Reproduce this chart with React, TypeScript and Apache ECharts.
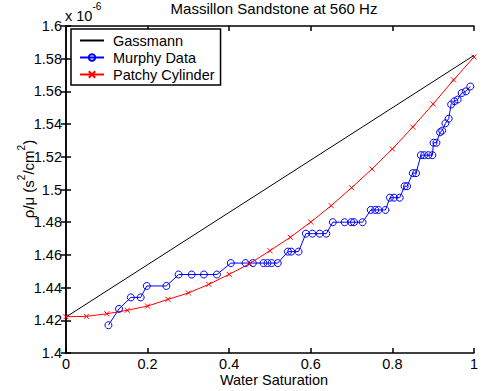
import React, { useEffect, useRef } from "react";
import * as echarts from "echarts";

const chartTitle = "Massillon Sandstone at 560 Hz";
const xAxisTitle = "Water Saturation";
const yAxisTitleRich = "{n|ρ/μ (s}{s|2}{n|/cm}{s|2}{n|)}";
const multiplierRich = "{n|x 10}{s|-6}";

const xMin = 0;
const xMax = 1;
const xStep = 0.2;
const yMin = 1.4;
const yMax = 1.6;
const yStep = 0.02;

const seriesNames = ["Gassmann", "Murphy Data", "Patchy Cylinder"];

const gassmannX = [0, 1];
const gassmannY = [1.422, 1.582];

const murphyX = [
  0.104, 0.13, 0.159, 0.183, 0.198, 0.246, 0.276, 0.308, 0.338, 0.37,
  0.404, 0.44, 0.458, 0.484, 0.494, 0.504, 0.519, 0.544, 0.552, 0.57,
  0.588, 0.604, 0.622, 0.638, 0.654, 0.683, 0.699, 0.706, 0.727, 0.747,
  0.758, 0.766, 0.783, 0.794, 0.804, 0.818, 0.83, 0.836, 0.85, 0.858,
  0.87, 0.878, 0.888, 0.898, 0.901, 0.908, 0.917, 0.922, 0.93, 0.938,
  0.944, 0.952, 0.96, 0.97, 0.98, 0.991,
];
const murphyY = [
  1.417, 1.427, 1.434, 1.434, 1.441, 1.441, 1.448, 1.448, 1.448, 1.448,
  1.455, 1.455, 1.455, 1.455, 1.455, 1.455, 1.455, 1.462, 1.462, 1.462,
  1.473, 1.473, 1.473, 1.473, 1.48, 1.48, 1.48, 1.48, 1.48, 1.4875,
  1.4875, 1.4875, 1.4875, 1.495, 1.495, 1.495, 1.502, 1.502, 1.51, 1.51,
  1.521, 1.521, 1.521, 1.521, 1.5286, 1.5286, 1.535, 1.536, 1.5405, 1.5433,
  1.552, 1.554, 1.555, 1.559, 1.56, 1.563,
];

const patchyX = [
  0, 0.05, 0.1, 0.15, 0.2, 0.25, 0.3, 0.35, 0.4, 0.45, 0.5,
  0.55, 0.6, 0.65, 0.7, 0.75, 0.8, 0.85, 0.9, 0.95, 1,
];
const patchyY = [
  1.4222, 1.4224, 1.424, 1.4261, 1.4287, 1.4328, 1.4367, 1.442, 1.4481, 1.4546, 1.4626,
  1.4708, 1.4801, 1.4901, 1.5011, 1.5125, 1.5248, 1.5382, 1.5523, 1.567, 1.581,
];

const FONT = "'Liberation Sans', Arial, Helvetica, sans-serif";
const FS = 14.5;

function zip(xs: number[], ys: number[]) {
  return xs.map((x, i) => [x, ys[i]]);
}

export default function App() {
  const ref = useRef<HTMLDivElement>(null);
  useEffect(() => {
    if (!ref.current) return;
    const chart = echarts.init(ref.current, null, { renderer: "svg" });
    const axisLine = { show: true, lineStyle: { color: "#000", width: 1.5 } };
    const tick = { show: true, inside: true, length: 5, lineStyle: { color: "#000", width: 1.5 } };
    const option: any = {
      animation: false,
      backgroundColor: "#fff",
      textStyle: { fontFamily: FONT },
      grid: { left: 66, top: 26, right: -1.5, bottom: 38, containLabel: false },
      legend: {
        data: seriesNames,
        orient: "vertical",
        left: 71,
        top: 29,
        backgroundColor: "#fff",
        borderColor: "#000",
        borderWidth: 1.5,
        borderRadius: 0,
        padding: [4, 6, 3, 8],
        itemWidth: 24,
        itemHeight: 8,
        itemGap: 2,
        selectedMode: false,
        textStyle: { fontSize: FS, fontFamily: FONT, color: "#000", padding: [0, 0, 0, 4] },
      },
      xAxis: [
        {
          type: "value",
          min: xMin,
          max: xMax,
          interval: xStep,
          position: "bottom",
          axisLine,
          axisTick: tick,
          splitLine: { show: false },
          axisLabel: {
            color: "#000",
            fontSize: FS,
            fontFamily: FONT,
            margin: 11,
            verticalAlign: "middle",
          },
        },
        {
          type: "value",
          min: xMin,
          max: xMax,
          interval: xStep,
          position: "top",
          axisLine,
          axisTick: tick,
          splitLine: { show: false },
          axisLabel: { show: false },
        },
      ],
      yAxis: [
        {
          type: "value",
          min: yMin,
          max: yMax,
          interval: yStep,
          position: "left",
          axisLine,
          axisTick: tick,
          splitLine: { show: false },
          axisLabel: {
            color: "#000",
            fontSize: FS,
            fontFamily: FONT,
            margin: 4,
            padding: [4, 0, 0, 0],
          },
        },
        {
          type: "value",
          min: yMin,
          max: yMax,
          interval: yStep,
          position: "right",
          axisLine,
          axisTick: tick,
          splitLine: { show: false },
          axisLabel: { show: false },
        },
      ],
      graphic: [
        {
          type: "text",
          x: 274,
          y: 8,
          style: {
            text: chartTitle,
            fontSize: 15,
            fontFamily: FONT,
            fill: "#000",
            textAlign: "center",
            textVerticalAlign: "middle",
          },
        },
        {
          type: "text",
          x: 274,
          y: 380,
          style: {
            text: xAxisTitle,
            fontSize: FS,
            fontFamily: FONT,
            fill: "#000",
            textAlign: "center",
            textVerticalAlign: "middle",
          },
        },
        {
          type: "text",
          x: 65,
          y: 12,
          style: {
            text: multiplierRich,
            fill: "#000",
            textAlign: "left",
            textVerticalAlign: "middle",
            rich: {
              n: { fontSize: FS, fontFamily: FONT, fill: "#000", lineHeight: 22, verticalAlign: "bottom" },
              s: { fontSize: 10, fontFamily: FONT, fill: "#000", verticalAlign: "top" },
            },
          },
        },
        {
          type: "text",
          x: 26,
          y: 179,
          rotation: Math.PI / 2,
          style: {
            text: yAxisTitleRich,
            fill: "#000",
            textAlign: "center",
            textVerticalAlign: "middle",
            rich: {
              n: { fontSize: 15, fontFamily: FONT, fill: "#000", lineHeight: 19, verticalAlign: "bottom" },
              s: { fontSize: 10, fontFamily: FONT, fill: "#000", verticalAlign: "top" },
            },
          },
        },
      ],
      series: [
        {
          name: seriesNames[0],
          type: "line",
          data: zip(gassmannX, gassmannY),
          showSymbol: false,
          symbol: "circle",
          color: "#000",
          itemStyle: { opacity: 0 },
          lineStyle: { color: "#000", width: 1 },
          emphasis: { disabled: true },
          silent: true,
        },
        {
          name: seriesNames[1],
          type: "line",
          data: zip(murphyX, murphyY),
          symbol: "circle",
          symbolSize: 7,
          showAllSymbol: true,
          color: "#0000ff",
          itemStyle: { color: "transparent", borderColor: "#0000ff", borderWidth: 1 },
          lineStyle: { color: "#0000ff", width: 1 },
          emphasis: { disabled: true },
          silent: true,
        },
        {
          name: seriesNames[2],
          type: "line",
          data: zip(patchyX, patchyY),
          symbol: "path://M0 0L10 10M10 0L0 10",
          symbolSize: 5,
          showAllSymbol: true,
          color: "#ff0000",
          itemStyle: { color: "transparent", borderColor: "#ff0000", borderWidth: 1 },
          lineStyle: { color: "#ff0000", width: 1 },
          emphasis: { disabled: true },
          silent: true,
        },
      ],
    };
    chart.setOption(option);
    return () => chart.dispose();
  }, []);
  return (
    <div
      ref={ref}
      style={{ position: "fixed", left: 0, top: 0, width: 481, height: 391, background: "#fff" }}
    />
  );
}
